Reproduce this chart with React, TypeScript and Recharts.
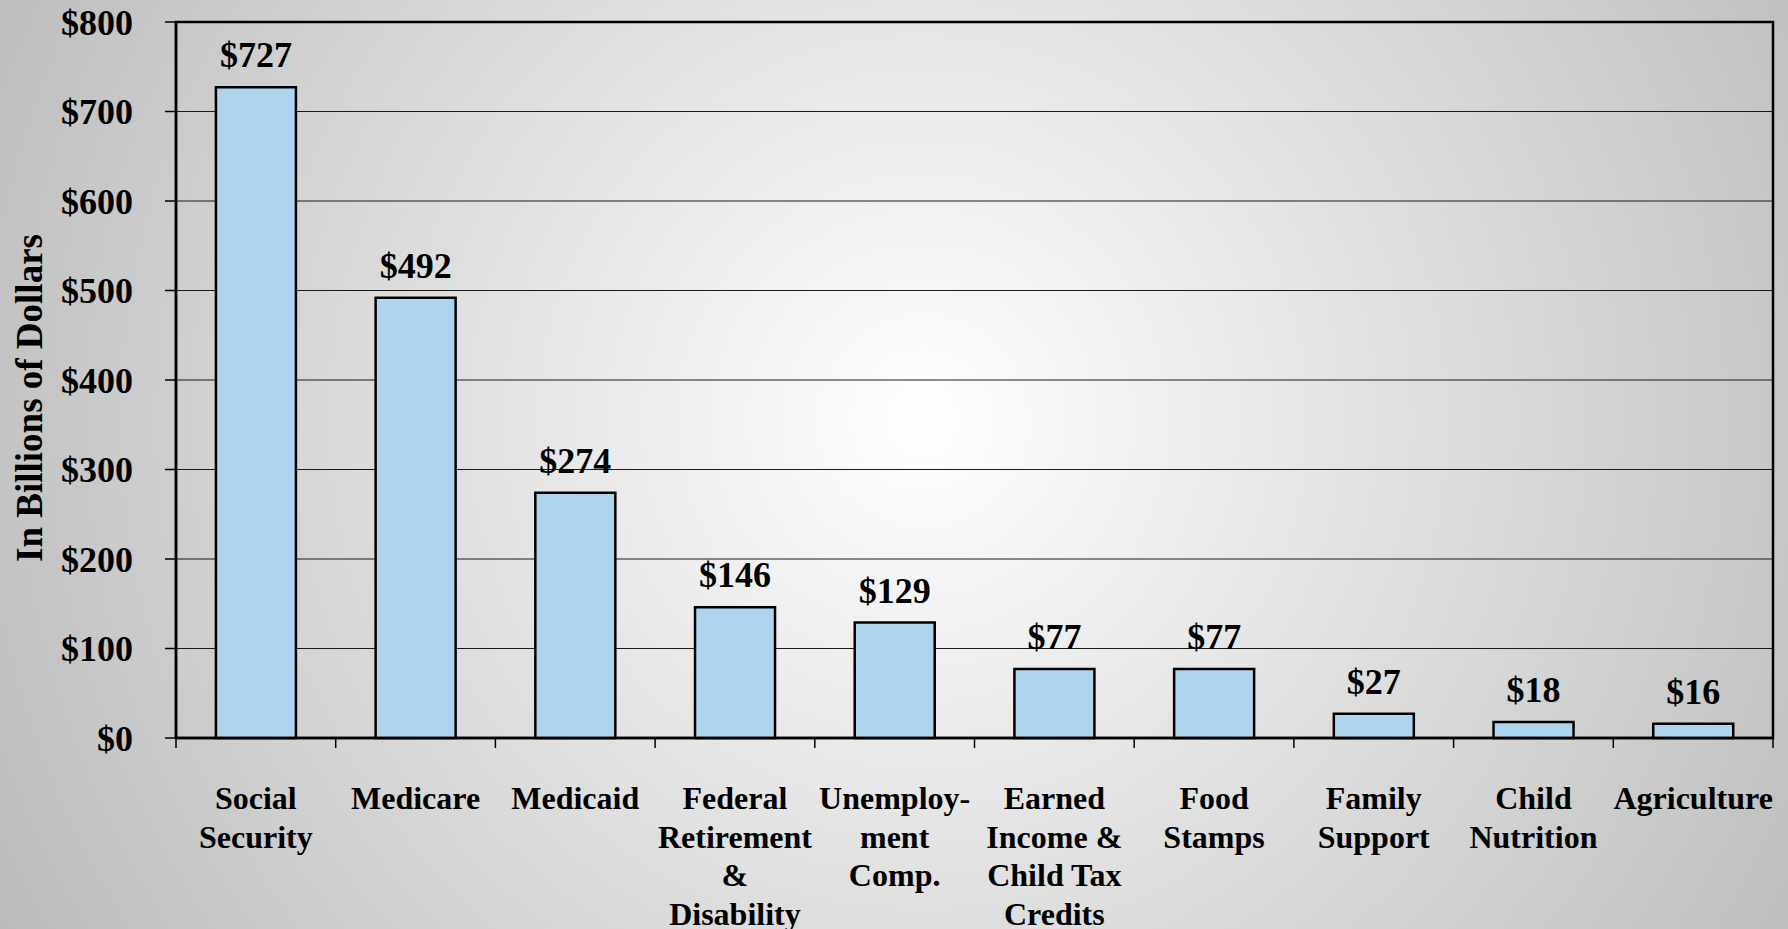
import { BarChart, Bar, XAxis, YAxis, CartesianGrid, LabelList, ReferenceArea, Label } from 'recharts';

// program names, one line per entry in the tick label
const categories = [
  'Social\nSecurity',
  'Medicare',
  'Medicaid',
  'Federal\nRetirement\n&\nDisability',
  'Unemploy-\nment\nComp.',
  'Earned\nIncome &\nChild Tax\nCredits',
  'Food\nStamps',
  'Family\nSupport',
  'Child\nNutrition',
  'Agriculture',
];

// outlays, billions of dollars
const spending = [727, 492, 274, 146, 129, 77, 77, 27, 18, 16];

const yTicks = [0, 100, 200, 300, 400, 500, 600, 700, 800];

const data = categories.map((name, i) => ({ name, value: spending[i] }));

const W = 1788;
const H = 929;
const Y_AXIS_W = 176;
const X_AXIS_H = 191;
const MARGIN = { top: 22, right: 15, left: 0, bottom: 0 };
const PLOT_W = W - Y_AXIS_W - MARGIN.right;
const BAND = PLOT_W / categories.length;

const FONT = "'Liberation Serif', 'Times New Roman', serif";

const CategoryTick = (props: any) => {
  const { x, y, payload, index } = props;
  const lines = String(payload.value).split('\n');
  const half = BAND / 2;
  return (
    <g>
      <line x1={x - half} x2={x - half} y1={y} y2={y + 10} stroke="#000" strokeWidth={1.5} />
      {index === categories.length - 1 && (
        <line x1={x + half} x2={x + half} y1={y} y2={y + 10} stroke="#000" strokeWidth={1.5} />
      )}
      <text
        x={x}
        y={y + 71}
        textAnchor="middle"
        fontFamily={FONT}
        fontWeight="bold"
        fontSize={32}
        fill="#000"
      >
        {lines.map((l, i) => (
          <tspan key={i} x={x} dy={i === 0 ? 0 : 38.5}>
            {l}
          </tspan>
        ))}
      </text>
    </g>
  );
};

export default function App() {
  return (
    <div
      style={{
        position: 'absolute',
        left: 0,
        top: 0,
        width: W,
        height: H,
        overflow: 'hidden',
        background: 'radial-gradient(circle farthest-corner at 923px 420px, #ffffff 0%, #bbbbbb 100%)',
      }}
    >
      <BarChart width={W} height={H} data={data} margin={MARGIN} barCategoryGap="25%">
        <CartesianGrid horizontal vertical={false} stroke="#1a1a1a" strokeWidth={1} />
        <XAxis
          dataKey="name"
          height={X_AXIS_H}
          interval={0}
          tickSize={0}
          tickMargin={0}
          tickLine={false}
          axisLine={{ stroke: '#000', strokeWidth: 2.5 }}
          tick={<CategoryTick />}
        />
        <YAxis
          width={Y_AXIS_W}
          domain={[0, 800]}
          ticks={yTicks}
          interval={0}
          tickSize={11}
          tickMargin={32}
          tickLine={{ stroke: '#000', strokeWidth: 1.5 }}
          axisLine={{ stroke: '#000', strokeWidth: 2.5 }}
          tickFormatter={(v: number) => `$${v}`}
          tick={{ fill: '#000', fontFamily: FONT, fontWeight: 'bold', fontSize: 36 }}
        >
          <Label
            content={(p: any) => {
              const vb = p.viewBox || { x: 0, y: 22, width: 176, height: 716 };
              const cx = vb.x + 29;
              const cy = vb.y + vb.height / 2 + 18;
              return (
                <text
                  x={cx}
                  y={cy}
                  transform={`rotate(-90, ${cx}, ${cy})`}
                  textAnchor="middle"
                  dominantBaseline="central"
                  fontFamily={FONT}
                  fontWeight="bold"
                  fontSize={37}
                  fill="#000"
                >
                  In Billions of Dollars
                </text>
              );
            }}
          />
        </YAxis>
        <ReferenceArea y1={0} y2={800} fill="none" stroke="#000" strokeWidth={2.5} />
        <Bar dataKey="value" fill="#aed4f0" stroke="#000" strokeWidth={2.5} isAnimationActive={false}>
          <LabelList
            dataKey="value"
            position="top"
            offset={20}
            formatter={(v: any) => `$${v}`}
            style={{ fill: '#000', fontFamily: FONT, fontWeight: 'bold', fontSize: 36 }}
          />
        </Bar>
      </BarChart>
    </div>
  );
}
